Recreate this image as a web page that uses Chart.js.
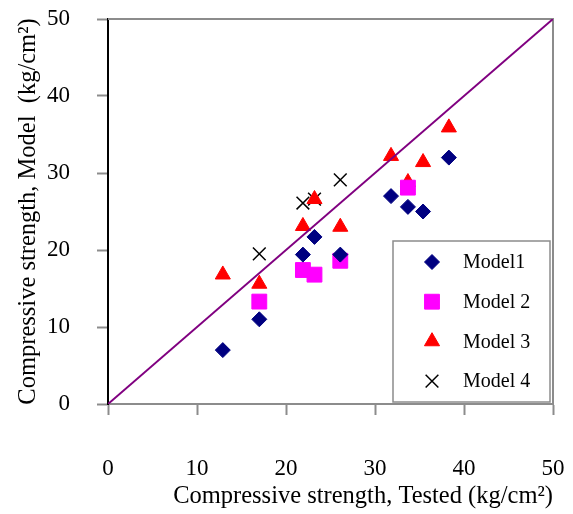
<!DOCTYPE html>
<html>
<head>
<meta charset="utf-8">
<script src="https://cdn.jsdelivr.net/npm/chart.js@4/dist/chart.umd.min.js"></script>
<style>
  body { margin: 0; background: #fff; }
  canvas { display: block; }
</style>
</head>
<body>
<canvas id="chart" width="573" height="514"></canvas>
<script>
// values (kg/cm2)
const tested1 = [12.9, 17.0, 21.9, 23.2, 26.1, 31.8, 33.7, 35.4, 38.3];
const model1 = [7.0, 11.0, 19.4, 21.7, 19.4, 27.0, 25.6, 25.0, 32.0];
const tested2 = [17.0, 21.9, 23.2, 26.1, 33.7];
const model2 = [13.3, 17.4, 16.8, 18.6, 28.1];
const tested3 = [12.9, 17.0, 21.9, 23.2, 26.1, 31.8, 33.7, 35.4, 38.3];
const model3 = [16.8, 15.6, 23.1, 26.6, 23.0, 32.2, 28.8, 31.4, 35.9];
const tested4 = [17.0, 21.9, 23.2, 26.1];
const model4 = [19.5, 26.1, 26.6, 29.1];
const seriesNames = ['Model1', 'Model 2', 'Model 3', 'Model 4'];
const lineOfEquality = [0, 50];
const axisTicks = [0, 10, 20, 30, 40, 50];

const toPoints = (xs, ys) => xs.map((x, i) => ({ x, y: ys[i] }));

const serif = "'Liberation Serif', 'DejaVu Serif', serif";

// frame round the plot (top and right edges are grey)
const framePlugin = {
  id: 'frame',
  beforeDatasetsDraw(chart) {
    const { ctx, chartArea: a } = chart;
    ctx.save();
    ctx.strokeStyle = '#8c8c8c';
    ctx.lineWidth = 2;
    ctx.beginPath();
    ctx.moveTo(a.left, a.top);
    ctx.lineTo(a.right, a.top);
    ctx.lineTo(a.right, a.bottom);
    ctx.stroke();
    ctx.restore();
  }
};

// legend box sitting in the lower right of the plot
const boxLegend = {
  id: 'boxLegend',
  afterDatasetsDraw(chart) {
    const { ctx, chartArea: a } = chart;
    const w = 157, h = 161;
    const left = a.right - 3 - w, top = a.bottom - 2 - h;
    ctx.save();
    ctx.fillStyle = '#fff';
    ctx.fillRect(left, top, w, h);
    ctx.strokeStyle = '#8c8c8c';
    ctx.lineWidth = 1.5;
    ctx.strokeRect(left, top, w, h);
    ctx.font = '20px ' + serif;
    ctx.textBaseline = 'middle';
    ctx.textAlign = 'left';
    chart.data.datasets.forEach((ds) => {
      if (!ds.inLegend) return;
      const y = top + 21 + ds.legendRow * 39.7;
      ctx.fillStyle = ds.backgroundColor;
      ctx.strokeStyle = ds.borderColor;
      ctx.lineWidth = ds.borderWidth;
      Chart.helpers.drawPoint(ctx, {
        pointStyle: ds.pointStyle,
        radius: ds.pointRadius,
        borderWidth: ds.borderWidth,
        rotation: 0
      }, left + 39, y);
      ctx.fillStyle = '#000';
      ctx.fillText(ds.label, left + 70, y + 1);
    });
    ctx.restore();
  }
};

new Chart(document.getElementById('chart'), {
  type: 'scatter',
  data: {
    datasets: [
      {
        type: 'line',
        label: 'equality',
        data: toPoints(lineOfEquality, lineOfEquality),
        borderColor: '#800080',
        borderWidth: 2,
        pointRadius: 0,
        fill: false,
        order: 0
      },
      {
        label: seriesNames[0],
        data: toPoints(tested1, model1),
        pointStyle: 'rectRot',
        pointRadius: 7.5,
        backgroundColor: '#000080',
        borderColor: '#000080',
        borderWidth: 1,
        inLegend: true, legendRow: 0,
        order: 1
      },
      {
        label: seriesNames[1],
        data: toPoints(tested2, model2),
        pointStyle: 'rect',
        pointRadius: 10.5,
        backgroundColor: '#ff00ff',
        borderColor: '#ff00ff',
        borderWidth: 1,
        inLegend: true, legendRow: 1,
        order: 1
      },
      {
        label: seriesNames[2],
        data: toPoints(tested3, model3),
        pointStyle: 'triangle',
        pointRadius: 8.7,
        backgroundColor: '#ff0000',
        borderColor: '#ff0000',
        borderWidth: 1,
        inLegend: true, legendRow: 2,
        order: 1
      },
      {
        label: seriesNames[3],
        data: toPoints(tested4, model4),
        pointStyle: 'crossRot',
        pointRadius: 9,
        backgroundColor: '#000',
        borderColor: '#000',
        borderWidth: 1.5,
        inLegend: true, legendRow: 3,
        order: 1
      }
    ]
  },
  options: {
    responsive: false,
    animation: false,
    layout: { padding: { top: 19, right: 20, left: 0, bottom: 0 } },
    plugins: {
      legend: { display: false },
      tooltip: { enabled: false }
    },
    scales: {
      x: {
        type: 'linear',
        min: 0,
        max: 50,
        afterBuildTicks: (axis) => { axis.ticks = axisTicks.map(v => ({ value: v })); },
        afterFit: (axis) => {
          axis.height = 110;
          axis.paddingLeft = 0;
          axis.paddingRight = 0;
        },
        grid: { drawOnChartArea: false, drawTicks: true, tickLength: 11, tickColor: '#8c8c8c', tickWidth: 2 },
        border: { color: '#8c8c8c', width: 2 },
        ticks: { color: '#000', padding: 40, font: { family: serif, size: 23 } },
        title: {
          display: true,
          text: 'Compressive strength, Tested (kg/cm²)',
          align: 'end',
          color: '#000',
          font: { family: serif, size: 24.5 },
          padding: { top: 0, bottom: 3 }
        }
      },
      y: {
        type: 'linear',
        min: 0,
        max: 50,
        afterBuildTicks: (axis) => { axis.ticks = axisTicks.map(v => ({ value: v })); },
        afterFit: (axis) => {
          axis.width = 108;
          axis.paddingTop = 0;
          axis.paddingBottom = 0;
        },
        grid: { drawOnChartArea: false, drawTicks: true, tickLength: 11, tickColor: '#8c8c8c', tickWidth: 2 },
        border: { color: '#000', width: 2 },
        ticks: { color: '#000', padding: 27, font: { family: serif, size: 23 } },
        title: {
          display: true,
          text: 'Compressive strength, Model  (kg/cm²)',
          color: '#000',
          font: { family: serif, size: 24.5 },
          padding: { top: 14, bottom: 0 }
        }
      }
    }
  },
  plugins: [framePlugin, boxLegend]
});
</script>
</body>
</html>
